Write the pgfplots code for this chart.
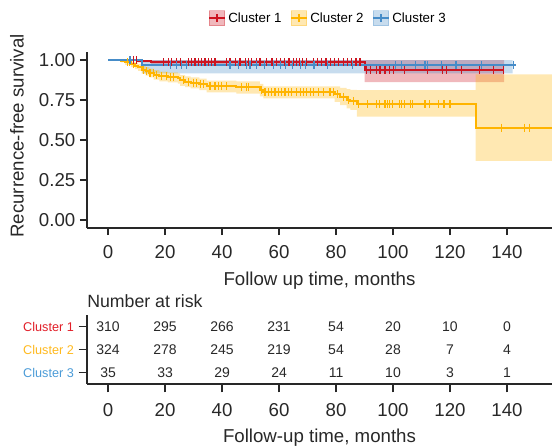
\documentclass[border=0pt]{standalone}
\usepackage{pgfplots}
\pgfplotsset{compat=1.18}
\usepackage{fontspec}
\setmainfont{Liberation Sans}
\definecolor{c1}{RGB}{204,20,32}
\definecolor{c2}{RGB}{255,180,0}
\definecolor{c3}{RGB}{70,140,200}
\definecolor{t1}{RGB}{225,30,40}
\definecolor{t2}{RGB}{255,185,30}
\definecolor{t3}{RGB}{75,155,215}
\definecolor{axc}{RGB}{40,40,40}

\pgfplotstableread{
t s
0 1.000
10.5 0.994
15 0.987
90 0.940
139 0.940
}\kmA
\pgfplotstableread{
t s
0 1.000
12 0.971
143 0.971
}\kmC
\pgfplotstableread{
t s
0 1.000
4.5 0.994
6 0.985
8 0.975
9.5 0.965
10.5 0.955
11.8 0.940
13.2 0.930
14.5 0.920
16 0.908
18 0.898
21 0.892
24.5 0.885
25.3 0.872
27 0.865
29 0.858
32 0.848
34.6 0.835
45 0.829
53.3 0.813
54.5 0.798
79.5 0.785
81.4 0.770
83.7 0.752
85 0.745
87.3 0.722
129 0.577
157 0.577
}\kmB

\begin{document}
\begin{tikzpicture}
\useasboundingbox (0,0) rectangle (414pt,-334.5pt);
\begin{axis}[
  at={(65.25pt,-171pt)}, anchor=south west, scale only axis,
  width=348.75pt, height=132pt,
  xmin=-7.4, xmax=155.8, ymin=-0.05, ymax=1.05,
  axis x line*=bottom, axis y line*=left,
  axis line style={axc, line width=0.9pt, -},
  xtick={0,20,...,140}, ytick={0,0.25,0.5,0.75,1},
  yticklabel style={/pgf/number format/fixed, /pgf/number format/fixed zerofill, /pgf/number format/precision=2},
  tick style={axc, line width=0.9pt}, tick align=outside, major tick length=5.25pt,
  ticklabel style={font=\fontsize{14}{16}\selectfont, text=axc},
  xticklabel style={yshift=-4.6pt},
  /pgf/number format/assume math mode=true,
  xlabel={Follow up time, months}, ylabel={Recurrence-free survival},
  label style={font=\fontsize{14}{16}\selectfont, text=axc},
  xlabel style={at={(axis description cs:0.5,0)}, anchor=center, yshift=-39.5pt},
  ylabel style={at={(axis description cs:0,0.523)}, anchor=center, yshift=52.5pt},
  legend style={at={(0.519,1.192)}, anchor=center, draw=none, fill=none,
    legend columns=3, font=\fontsize{10}{12}\selectfont,
    /tikz/every even column/.append style={column sep=4.5pt}},
  legend cell align=left,
]
% confidence bands (step polygons)
\addplot[fill=c1, fill opacity=0.3, draw=none, forget plot] coordinates {
(0,1) (139,1) (139,0.862) (90,0.862) (90,0.975) (15,0.975) (15,0.985) (10.5,0.985) (10.5,1) (0,1)
} -- cycle;
\addplot[fill=c3, fill opacity=0.3, draw=none, forget plot] coordinates {
(0,1) (142,1) (142,0.917) (12,0.917) (12,1) (0,1)
} -- cycle;
\addplot[fill=c2, fill opacity=0.3, draw=none, forget plot] coordinates {
(0,1) (6,1) (6,0.995) (8,0.995) (8,0.99) (9.5,0.99) (9.5,0.983) (10.5,0.983) (10.5,0.975) (11.8,0.975) (11.8,0.962) (13.2,0.962) (13.2,0.955) (14.5,0.955) (14.5,0.946) (16,0.946) (16,0.937) (18,0.937) (18,0.928) (21,0.928) (21,0.922) (24.5,0.922) (24.5,0.916) (25.3,0.916) (25.3,0.905) (27,0.905) (27,0.898) (29,0.898) (29,0.892) (32,0.892) (32,0.883) (34.6,0.883) (34.6,0.871) (45,0.871) (45,0.866) (53.3,0.866) (53.3,0.851) (54.5,0.851) (54.5,0.835) (81.4,0.835) (81.4,0.826) (83.7,0.826) (83.7,0.818) (85,0.818) (85,0.814) (87.3,0.814) (87.3,0.812) (129,0.812) (129,0.91) (157,0.91)
(157,0.37) (129,0.37) (129,0.646) (87.3,0.646) (87.3,0.688) (85,0.688) (85,0.698) (83.7,0.698) (83.7,0.718) (81.4,0.718) (81.4,0.738) (79.5,0.738) (79.5,0.760) (54.5,0.760) (54.5,0.773) (53.3,0.773) (53.3,0.790) (45,0.790) (45,0.797) (34.6,0.797) (34.6,0.812) (32,0.812) (32,0.822) (29,0.822) (29,0.830) (27,0.830) (27,0.838) (25.3,0.838) (25.3,0.852) (24.5,0.852) (24.5,0.860) (21,0.860) (21,0.867) (18,0.867) (18,0.878) (16,0.878) (16,0.892) (14.5,0.892) (14.5,0.903) (13.2,0.903) (13.2,0.915) (11.8,0.915) (11.8,0.932) (10.5,0.932) (10.5,0.943) (9.5,0.943) (9.5,0.955) (8,0.955) (8,0.970) (6,0.970) (6,0.985) (4.5,0.985) (4.5,1) (0,1)
} -- cycle;
% curves
\addplot[const plot, c2, line width=1.5pt, forget plot] table[x=t,y=s]{\kmB};
\addplot[const plot, c1, line width=1.5pt, forget plot] table[x=t,y=s]{\kmA};
\addplot[const plot, c3, line width=1.5pt, forget plot] table[x=t,y=s]{\kmC};
% censoring marks
\addplot[only marks, mark=|, mark size=3pt, c2, mark options={line width=0.9pt}, forget plot] coordinates {
(6.8,0.985) (7.5,0.985) (8.8,0.975) (12.3,0.94) (13.6,0.93) (14.7,0.92) (15.9,0.92) (17.1,0.908) (18.8,0.898) (20.6,0.898) (21.8,0.892) (23,0.892) (26.4,0.872) (28.2,0.865) (29.9,0.858) (31,0.858) (32.3,0.848) (33.5,0.848) (35.8,0.835) (37.5,0.835) (38.7,0.835) (39.9,0.835) (41.6,0.835) (46.9,0.829) (48.7,0.829) (49.2,0.829) (53.9,0.813) (55.1,0.798) (56.3,0.798) (57.4,0.798) (58.6,0.798) (59.8,0.798) (60.9,0.798) (62.1,0.798) (63.3,0.798) (64.4,0.798) (66.2,0.798) (67.4,0.798) (68.5,0.798) (69.7,0.798) (70.9,0.798) (72.0,0.798) (73.8,0.798) (75.5,0.798) (77.9,0.798) (79.0,0.798) (80.5,0.785) (82.5,0.77) (84.3,0.752) (86,0.745) (87.8,0.722) (91,0.722) (94.3,0.722) (95.2,0.722) (97.2,0.722) (98,0.722) (98.9,0.722) (99.9,0.722) (102.2,0.722) (103,0.722) (103.9,0.722) (106,0.722) (106.9,0.722) (111.2,0.722) (112.8,0.722) (115.9,0.722) (117.9,0.722) (120,0.722) (138.1,0.577) (146.1,0.577) (147.8,0.577)
};
\addplot[only marks, mark=|, mark size=3pt, c1, mark options={line width=0.9pt}, forget plot] coordinates {
(7.8,1) (8.8,1) (10,1) (19.4,0.987) (21.2,0.987) (22.3,0.987) (24.1,0.987) (25.3,0.987) (28.2,0.987) (29.4,0.987) (30.5,0.987) (31.7,0.987) (32.9,0.987) (34.0,0.987) (35.2,0.987) (36.4,0.987) (37.5,0.987) (41.6,0.987) (42.8,0.987) (44.6,0.987) (46.3,0.987) (48.1,0.987) (49.2,0.987) (50.4,0.987) (52.2,0.987) (53.3,0.987) (55.5,0.987) (57.5,0.987) (59,0.987) (60.5,0.987) (62,0.987) (63.5,0.987) (65,0.987) (66,0.987) (67.2,0.987) (68.3,0.987) (69.5,0.987) (72,0.987) (73.5,0.987) (75,0.987) (76.5,0.987) (78,0.987) (79.5,0.987) (81,0.987) (82.5,0.987) (84,0.987) (85.5,0.987) (87,0.987) (88.4,0.987) (90.8,0.94) (92.2,0.94) (94.3,0.94) (95.4,0.94) (97.2,0.94) (98.7,0.94) (100.1,0.94) (103.9,0.94) (112.0,0.94) (117.4,0.94) (118.8,0.94) (124.1,0.94) (130.3,0.94) (135.2,0.94) (138.9,0.94)
};
\addplot[only marks, mark=|, mark size=3pt, c3, mark options={line width=0.9pt}, forget plot] coordinates {
(7.7,1) (21.8,0.971) (24.1,0.971) (25.9,0.971) (27.6,0.971) (42.8,0.971) (45.7,0.971) (48.7,0.971) (49.8,0.971) (52,0.971) (55,0.971) (58,0.971) (60.5,0.971) (62.3,0.971) (64.6,0.971) (67.5,0.971) (69.3,0.971) (72.3,0.971) (77,0.971) (85.8,0.971) (101,0.971) (103,0.971) (108,0.971) (111.2,0.971) (112,0.971) (117.1,0.971) (122.1,0.971) (131.1,0.971) (142.2,0.971)
};
% legend
\addlegendimage{legend image code/.code={\fill[c1,opacity=0.3] (0pt,-5.6pt) rectangle (11.5pt,5.6pt); \draw[c1,line width=1.5pt] (0pt,0pt)--(11.5pt,0pt); \draw[c1,line width=0.9pt] (5.75pt,-3pt)--(5.75pt,3pt);}}
\addlegendentry{Cluster 1}
\addlegendimage{legend image code/.code={\fill[c2,opacity=0.3] (0pt,-5.6pt) rectangle (11.5pt,5.6pt); \draw[c2,line width=1.5pt] (0pt,0pt)--(11.5pt,0pt); \draw[c2,line width=0.9pt] (5.75pt,-3pt)--(5.75pt,3pt);}}
\addlegendentry{Cluster 2}
\addlegendimage{legend image code/.code={\fill[c3,opacity=0.3] (0pt,-5.6pt) rectangle (11.5pt,5.6pt); \draw[c3,line width=1.5pt] (0pt,0pt)--(11.5pt,0pt); \draw[c3,line width=0.9pt] (5.75pt,-3pt)--(5.75pt,3pt);}}
\addlegendentry{Cluster 3}
\end{axis}

\begin{axis}[
  at={(65.25pt,-288pt)}, anchor=south west, scale only axis,
  width=348.75pt, height=51.75pt,
  xmin=-7.4, xmax=155.8, ymin=0.5, ymax=3.5,
  axis x line*=bottom, axis y line*=left,
  axis line style={axc, line width=0.9pt, -},
  xtick={0,20,...,140}, ytick={1,2,3},
  yticklabels={{\color{t3}Cluster 3},{\color{t2}Cluster 2},{\color{t1}Cluster 1}},
  tick style={axc, line width=0.9pt}, tick align=outside, major tick length=6.3pt,
  xticklabel style={font=\fontsize{14}{16}\selectfont, text=axc, yshift=-4.4pt},
  yticklabel style={font=\fontsize{9.5}{11}\selectfont},
  /pgf/number format/assume math mode=true,
  xlabel={Follow-up time, months},
  label style={font=\fontsize{14}{16}\selectfont, text=axc},
  xlabel style={at={(axis description cs:0.5,0)}, anchor=center, yshift=-40pt},
  title={Number at risk},
  title style={at={(axis description cs:0,1)}, anchor=base west, inner sep=0pt, yshift=-0.4pt, font=\fontsize{13.3}{15}\selectfont, text=axc},
]
\addplot[draw=none, mark=none, nodes near coords, point meta=explicit symbolic,
  every node near coord/.append style={anchor=center, font=\fontsize{10.5}{12}\selectfont, text=axc}]
  table[x=x, y=y, meta=n]{
x y n
0 3 310
20 3 295
40 3 266
60 3 231
80 3 54
100 3 20
120 3 10
140 3 0
0 2 324
20 2 278
40 2 245
60 2 219
80 2 54
100 2 28
120 2 7
140 2 4
0 1 35
20 1 33
40 1 29
60 1 24
80 1 11
100 1 10
120 1 3
140 1 1
};
\end{axis}
\end{tikzpicture}
\end{document}
